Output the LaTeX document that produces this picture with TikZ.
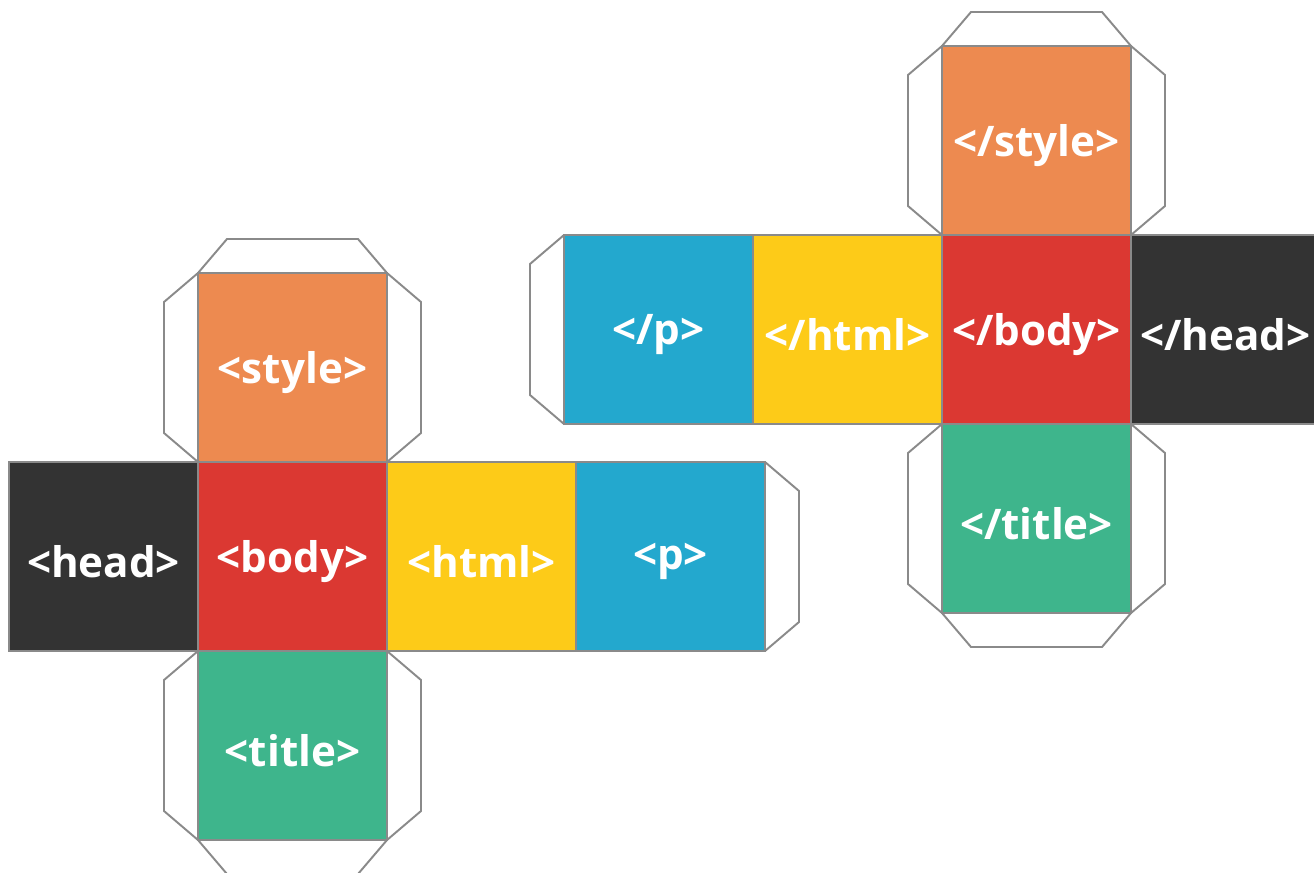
\documentclass[tikz,border=0pt]{standalone}
\usepackage{fontspec}
\setmainfont{Open Sans}
\definecolor{tagorange}{HTML}{ED8A50}
\definecolor{tagred}{HTML}{DB3832}
\definecolor{tagyellow}{HTML}{FDCB18}
\definecolor{tagblue}{HTML}{23A8CE}
\definecolor{taggreen}{HTML}{3EB58C}
\definecolor{tagdark}{HTML}{333333}
\definecolor{edgegray}{HTML}{8A8A8A}
\begin{document}
\begin{tikzpicture}[x=0.02cm,y=-0.02cm,
		face/.style={draw=edgegray,line width=1.1pt,minimum width=3.78cm,minimum height=3.78cm,inner sep=0pt,outer sep=0pt,text=white},
		flap/.style={draw=edgegray,line width=1.1pt,line join=miter}]
			\newcommand{\mytag}[1]{
				\raisebox{-0.1cm}[\height][\depth]{\fontsize{24}{28}\selectfont\bfseries{#1}}
			}%Page
			\clip (0,0) rectangle (1314,872);
			\fill[white] (0,0) rectangle (1314,872);
			%Opening tags, centres of the faces
			\coordinate (cHead) at (103.5,556.5);
			\coordinate (cBody) at (292.5,556.5);
			\coordinate (cHtml) at (481.5,556.5);
			\coordinate (cP) at (670.5,556.5);
			\coordinate (cStyle) at (292.5,367.5);
			\coordinate (cTitle) at (292.5,745.5);
			%Closing tags, centres of the faces
			\coordinate (cPEnd) at (658.5,329.5);
			\coordinate (cHtmlEnd) at (847.5,329.5);
			\coordinate (cBodyEnd) at (1036.5,329.5);
			\coordinate (cHeadEnd) at (1225.5,329.5);
			\coordinate (cStyleEnd) at (1036.5,140.5);
			\coordinate (cTitleEnd) at (1036.5,518.5);
			%Flaps of the first net
			\draw[flap] (198,273) -- (227,239) -- (358,239) -- (387,273);
			\draw[flap] (198,273) -- (164,302) -- (164,433) -- (198,462);
			\draw[flap] (387,273) -- (421,302) -- (421,433) -- (387,462);
			\draw[flap] (198,651) -- (164,680) -- (164,811) -- (198,840);
			\draw[flap] (387,651) -- (421,680) -- (421,811) -- (387,840);
			\draw[flap] (198,840) -- (227,874) -- (358,874) -- (387,840);
			\draw[flap] (765,462) -- (799,491) -- (799,622) -- (765,651);
			%Flaps of the second net
			\draw[flap] (942,46) -- (971,12) -- (1102,12) -- (1131,46);
			\draw[flap] (942,46) -- (908,75) -- (908,206) -- (942,235);
			\draw[flap] (1131,46) -- (1165,75) -- (1165,206) -- (1131,235);
			\draw[flap] (942,424) -- (908,453) -- (908,584) -- (942,613);
			\draw[flap] (1131,424) -- (1165,453) -- (1165,584) -- (1131,613);
			\draw[flap] (942,613) -- (971,647) -- (1102,647) -- (1131,613);
			\draw[flap] (564,235) -- (530,264) -- (530,395) -- (564,424);
			%Faces of the first net
			\node[face,fill=tagdark] (head) at (cHead) {\mytag{<head>}};
			\node[face,fill=tagred] (body) at (cBody) {\mytag{<body>}};
			\node[face,fill=tagyellow] (html) at (cHtml) {\mytag{<html>}};
			\node[face,fill=tagblue] (p) at (cP) {\mytag{<p>}};
			\node[face,fill=tagorange] (style) at (cStyle) {\mytag{<style>}};
			\node[face,fill=taggreen] (title) at (cTitle) {\mytag{<title>}};
			%Faces of the second net
			\node[face,fill=tagblue] (pEnd) at (cPEnd) {\mytag{</p>}};
			\node[face,fill=tagyellow] (htmlEnd) at (cHtmlEnd) {\mytag{</html>}};
			\node[face,fill=tagred] (bodyEnd) at (cBodyEnd) {\mytag{</body>}};
			\node[face,fill=tagdark] (headEnd) at (cHeadEnd) {\mytag{</head>}};
			\node[face,fill=tagorange] (styleEnd) at (cStyleEnd) {\mytag{</style>}};
			\node[face,fill=taggreen] (titleEnd) at (cTitleEnd) {\mytag{</title>}};
\end{tikzpicture}
\end{document}
